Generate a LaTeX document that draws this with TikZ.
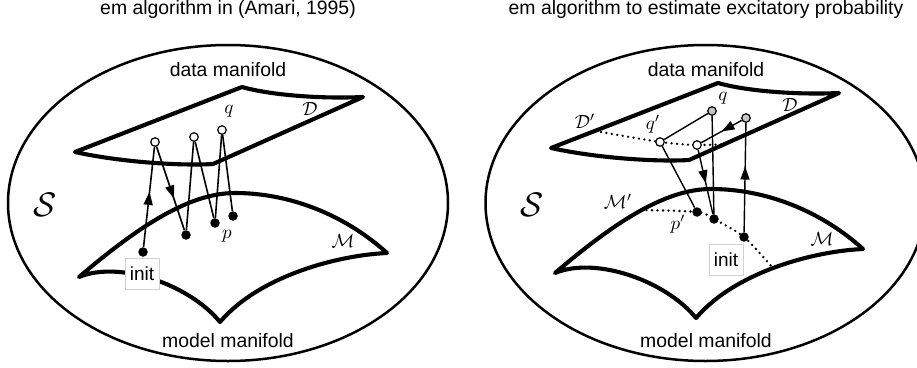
\documentclass[tikz,border=0pt]{standalone}
\usepackage{fontspec}
\setmainfont{Liberation Sans}
\usetikzlibrary{decorations.markings,arrows.meta}
\newcommand{\mth}[2][1.9]{\scalebox{#1}{$#2$}}
\begin{document}
\begin{tikzpicture}[x=1pt,y=-1pt,
 lbl/.style={font=\fontsize{19.4}{22}\selectfont, inner sep=0pt, anchor=base},
 mlbl/.style={inner sep=0pt, anchor=base},
 biglbl/.style={inner sep=0pt},
 surf/.style={line width=4.1pt, line join=round},
 outer/.style={line width=2.5pt},
 opn/.style={circle, draw, line width=1.2pt, fill=white, minimum size=8.5pt, inner sep=0pt},
 gry/.style={circle, draw, line width=1.2pt, fill=gray!45, minimum size=8.5pt, inner sep=0pt},
 blk/.style={circle, fill=black, minimum size=9.5pt, inner sep=0pt},
 initbox/.style={draw=gray!35, fill=white, line width=0.8pt, minimum width=34pt, minimum height=31pt, inner sep=0pt, font=\fontsize{19}{22}\selectfont},
 lpath/.style={line width=1.6pt},
 rpath/.style={line width=1.4pt},
 midarr/.style={postaction={decorate}, decoration={markings, mark=at position #1 with {\arrow{Triangle[length=13pt,width=9pt]}}}},
 dotline/.style={line width=2.6pt, dash pattern=on 0pt off 5.5pt, line cap=round},
]
\useasboundingbox (0,0) rectangle (917,367);

% ---------------- left panel ----------------
\node[lbl] (t1) at (228,14) {em algorithm in (Amari, 1995)};
\draw[outer] (228,203) ellipse [x radius=220pt, y radius=158pt];
\node[lbl] (dm1) at (228,76) {data manifold};
\node[lbl] (mm1) at (228,347) {model manifold};
\node[biglbl] (S1) at (45,205) {\mth[3.4]{\mathcal{S}}};

\draw[surf] (75,152) -- (242,87) .. controls (270,95) and (320,99) .. (363,97)
  -- (213,164) .. controls (180,166) and (120,162) .. (75,152) -- cycle;
\draw[surf] (79,277) .. controls (140,225) and (190,193) .. (235,193)
  .. controls (290,193) and (345,215) .. (387,253)
  .. controls (340,255) and (260,275) .. (220,322)
  .. controls (190,285) and (120,260) .. (79,277) -- cycle;

\node[mlbl] (lq) at (229,113) {\mth{q}};
\node[mlbl] (lD) at (310,115) {\mth{\mathcal{D}}};
\node[mlbl] (lM) at (343,247) {\mth{\mathcal{M}}};
\node[mlbl] (lp) at (227,238) {\mth{p}};

\node[initbox] (init1) at (142,274) {init};

\node[blk] (i0) at (143,252) {};
\node[opn] (q1) at (155,142) {};
\node[blk] (p1) at (186,235) {};
\node[opn] (q2) at (194,137) {};
\node[blk] (p2) at (215,223) {};
\node[opn] (q3) at (222,130) {};
\node[blk] (p3) at (233,216) {};
\draw[lpath, midarr=0.55] (i0) -- (q1);
\draw[lpath, midarr=0.62] (q1) -- (p1);
\draw[lpath] (p1) -- (q2);
\draw[lpath] (q2) -- (p2);
\draw[lpath] (p2) -- (q3);
\draw[lpath] (q3) -- (p3);

% ---------------- right panel ----------------
\node[lbl] (t2) at (706,14) {em algorithm to estimate excitatory probability};
\draw[outer] (705.5,203) ellipse [x radius=220pt, y radius=158pt];
\node[lbl] (dm2) at (706,76) {data manifold};
\node[lbl] (mm2) at (706,347) {model manifold};
\node[biglbl] (S2) at (532,205) {\mth[3.4]{\mathcal{S}}};

\begin{scope}[shift={(476,-4)}]
\draw[surf] (75,152) -- (242,87) .. controls (270,95) and (320,99) .. (363,97)
  -- (213,164) .. controls (180,166) and (120,162) .. (75,152) -- cycle;
\draw[surf] (79,277) .. controls (140,225) and (190,193) .. (235,193)
  .. controls (290,193) and (345,215) .. (387,253)
  .. controls (340,255) and (260,275) .. (220,322)
  .. controls (190,285) and (120,260) .. (79,277) -- cycle;
\end{scope}

\coordinate (g1c) at (712,111);
\coordinate (g2c) at (746,118);
\coordinate (o1c) at (660,142);
\coordinate (o2c) at (697,145);
\coordinate (b1c) at (697,212);
\coordinate (b2c) at (714,219);
\coordinate (b3c) at (744,237);
\coordinate (dd1) at (601,132);
\coordinate (dd2) at (726,144);
\coordinate (mp1) at (641,210);
\coordinate (mp2) at (772,267);

\draw[dotline] plot[smooth] coordinates {(dd1) (o1c) (o2c) (dd2)};
\draw[dotline] plot[smooth] coordinates {(mp1) (b1c) (b2c) (b3c) (mp2)};

\node[mlbl] (rDp) at (585,128) {\mth{\mathcal{D}'}};
\node[mlbl] (rqp) at (653,129) {\mth{q'}};
\node[mlbl] (rq) at (723,100) {\mth{q}};
\node[mlbl] (rD) at (790,111) {\mth{\mathcal{D}}};
\node[mlbl] (rMp) at (618,208) {\mth{\mathcal{M}'}};
\node[mlbl] (rpp) at (678,229) {\mth{p'}};
\node[mlbl] (rM) at (822,245) {\mth{\mathcal{M}}};

\node[initbox] (init2) at (726,260) {init};

\node[gry] (g1) at (g1c) {};
\node[gry] (g2) at (g2c) {};
\node[opn] (o1) at (o1c) {};
\node[opn] (o2) at (o2c) {};
\node[blk] (b1) at (b1c) {};
\node[blk] (b2) at (b2c) {};
\node[blk] (b3) at (b3c) {};
\draw[rpath, midarr=0.6] (b3) -- (g2);
\draw[rpath, midarr=0.5] (g2) -- (o2);
\draw[rpath, midarr=0.52] (o2) -- (b2);
\draw[rpath] (b2) -- (g1);
\draw[rpath] (g1) -- (o1);
\draw[rpath] (o1) -- (b1);
\end{tikzpicture}
\end{document}
